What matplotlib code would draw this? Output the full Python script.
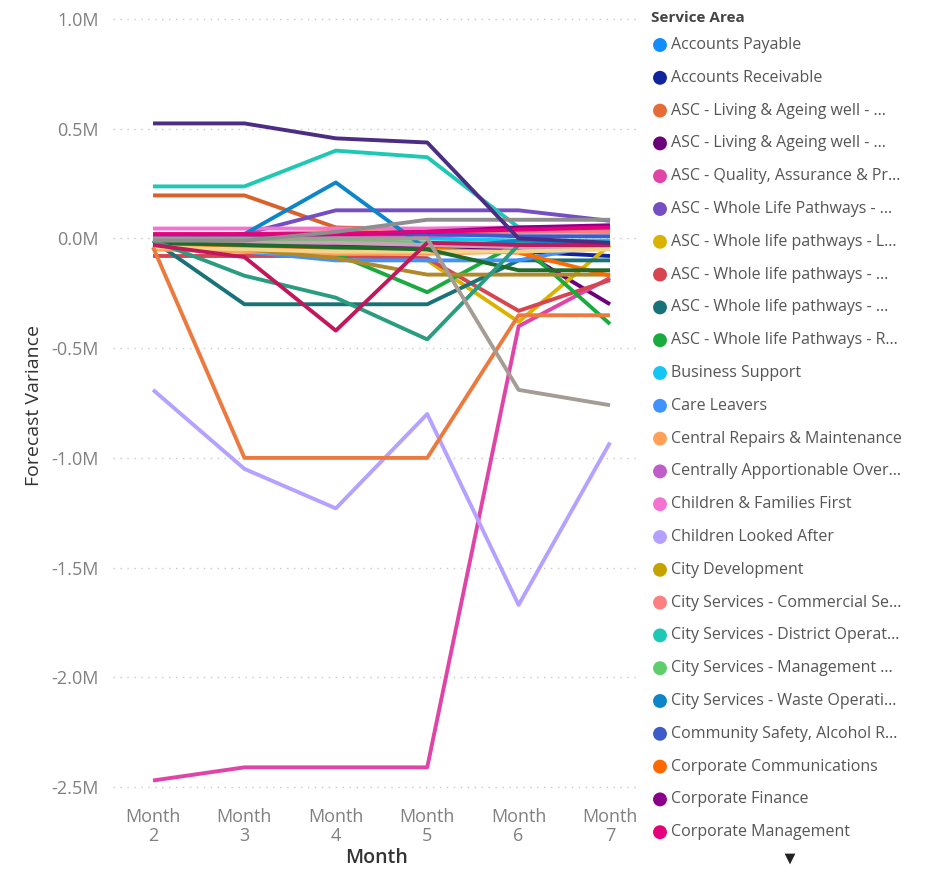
import matplotlib
matplotlib.use("Agg")
from matplotlib import pyplot as plt

plt.rcParams['font.family'] = ['Open Sans', 'DejaVu Sans']

months = [2, 3, 4, 5, 6, 7]
month_labels = [f"Month\n{m}" for m in months]
y_ticks = [1.0, 0.5, 0.0, -0.5, -1.0, -1.5, -2.0, -2.5]
y_tick_labels = ["1.0M", "0.5M", "0.0M", "-0.5M", "-1.0M", "-1.5M", "-2.0M", "-2.5M"]

# values in millions, months 2..7
accounts_payable = [-0.02, -0.02, -0.03, -0.03, -0.02, -0.02]
accounts_receivable = [-0.02, -0.03, -0.03, -0.04, -0.06, -0.08]
asc_living_1 = [0.196, 0.196, 0.05, 0.04, 0.04, 0.03]
asc_living_2 = [-0.02, -0.03, -0.03, -0.03, -0.05, -0.30]
asc_quality = [-2.47, -2.41, -2.41, -2.41, -0.40, -0.18]
asc_wlp_whole = [-0.01, 0.02, 0.128, 0.128, 0.128, 0.08]
asc_wlp_l = [-0.04, -0.06, -0.08, -0.10, -0.38, -0.03]
asc_wlp_red = [-0.08, -0.08, -0.08, -0.09, -0.33, -0.19]
asc_wlp_teal = [-0.01, -0.30, -0.30, -0.30, -0.10, -0.10]
asc_wlp_r = [-0.03, -0.05, -0.07, -0.245, -0.02, -0.39]
business_support = [0.0, 0.0, 0.0, 0.0, -0.01, -0.01]
care_leavers = [-0.03, -0.06, -0.10, -0.10, -0.10, -0.02]
central_repairs = [-0.05, -0.06, -0.07, -0.07, -0.06, -0.02]
centrally_apportionable = [0.0, 0.0, 0.01, 0.01, 0.03, 0.04]
children_families = [0.045, 0.045, 0.045, 0.045, 0.05, 0.05]
children_looked_after = [-0.69, -1.05, -1.23, -0.80, -1.67, -0.93]
city_development = [-0.02, -0.05, -0.09, -0.165, -0.165, -0.165]
city_commercial = [0.01, 0.02, 0.03, 0.03, 0.03, 0.03]
city_district = [0.237, 0.237, 0.40, 0.37, 0.05, 0.05]
city_management = [-0.01, -0.01, -0.01, -0.02, -0.02, -0.02]
city_waste = [-0.02, 0.02, 0.255, -0.05, -0.01, -0.02]
community_safety = [0.0, 0.01, 0.02, 0.02, 0.01, 0.01]
corp_comms = [-0.03, -0.04, -0.05, -0.05, -0.065, -0.17]
corp_finance = [0.0, 0.0, 0.02, 0.03, 0.05, 0.06]
corp_management = [0.02, 0.02, 0.02, 0.03, 0.04, 0.05]

# series further down the (scrolled) legend
extra_indigo = [0.524, 0.524, 0.456, 0.437, 0.0, -0.02]
extra_crimson = [-0.03, -0.085, -0.42, -0.02, -0.03, -0.03]
extra_teal = [-0.01, -0.17, -0.27, -0.46, -0.03, -0.03]
extra_dark_green = [-0.02, -0.03, -0.04, -0.05, -0.145, -0.145]
extra_orange = [-0.04, -1.0, -1.0, -1.0, -0.35, -0.35]
extra_rose = [-0.01, -0.02, -0.02, -0.03, -0.04, -0.04]
extra_sand = [-0.04, -0.05, -0.06, -0.06, -0.06, -0.05]
extra_grey = [-0.01, -0.01, 0.03, 0.085, 0.085, 0.085]
extra_taupe = [0.0, 0.0, 0.0, 0.0, -0.69, -0.76]

legend_names = ["Accounts Payable", "Accounts Receivable", "ASC - Living & Ageing well - ...",
                "ASC - Living & Ageing well - ...", "ASC - Quality, Assurance & Pr...",
                "ASC - Whole Life Pathways - ...", "ASC - Whole life pathways - L...",
                "ASC - Whole life pathways - ...", "ASC - Whole life pathways - ...",
                "ASC - Whole life Pathways - R...", "Business Support", "Care Leavers",
                "Central Repairs & Maintenance", "Centrally Apportionable Over...",
                "Children & Families First", "Children Looked After", "City Development",
                "City Services - Commercial Se...", "City Services - District Operat...",
                "City Services - Management ...", "City Services - Waste Operati...",
                "Community Safety, Alcohol R...", "Corporate Communications",
                "Corporate Finance", "Corporate Management"]
legend_series = [accounts_payable, accounts_receivable, asc_living_1, asc_living_2, asc_quality,
                 asc_wlp_whole, asc_wlp_l, asc_wlp_red, asc_wlp_teal, asc_wlp_r, business_support,
                 care_leavers, central_repairs, centrally_apportionable, children_families,
                 children_looked_after, city_development, city_commercial, city_district,
                 city_management, city_waste, community_safety, corp_comms, corp_finance,
                 corp_management]
legend_colors = ["#118DFF", "#12239E", "#E66C37", "#6B007B", "#E044A7", "#744EC2", "#D9B300",
                 "#D64550", "#197278", "#1AAB40", "#15C6F4", "#4092FF", "#FFA058", "#BE5DC9",
                 "#F472D0", "#B5A1FF", "#C4A200", "#FD8080", "#1FC8B4", "#5ECE6B", "#0C86C8",
                 "#3D5CC9", "#FF6A00", "#8B008B", "#E5007D"]
line_colors = list(legend_colors)
line_colors[2] = "#D9622B"
line_colors[16] = "#B08A2A"

extra_series = [extra_rose, extra_sand, extra_dark_green, extra_teal, extra_crimson,
                extra_orange, extra_taupe, extra_grey, extra_indigo]
extra_colors = ["#C9A3B5", "#F2D48A", "#1E6B2A", "#2A9D80", "#C2185B",
                "#EC7A3F", "#A59C94", "#8E8E8E", "#4B2D83"]

fig = plt.figure(figsize=(9.26, 8.73), dpi=100, facecolor="white")
ax = fig.add_axes([113 / 926, 1 - 795 / 873, 527 / 926, 780 / 873])

for vals, col in zip(legend_series, line_colors):
    ax.plot(months, vals, color=col, linewidth=2.8, solid_capstyle="butt")
for vals, col in zip(extra_series, extra_colors):
    ax.plot(months, vals, color=col, linewidth=2.8, solid_capstyle="butt")

ax.set_xlim(1.562, 7.328)
ax.set_ylim(-2.536, 1.018)
ax.set_yticks(y_ticks)
ax.set_yticklabels(y_tick_labels)
ax.set_xticks(months)
ax.set_xticklabels(month_labels, linespacing=1.1)
ax.tick_params(axis="y", length=0, pad=10, labelsize=13, labelcolor="#808080")
ax.tick_params(axis="x", length=0, pad=9, labelsize=13, labelcolor="#808080")
ax.grid(axis="y", color="#c8c8c8", linestyle=(0, (1, 4)), linewidth=1)
ax.set_axisbelow(True)
for s in ax.spines.values():
    s.set_visible(False)
ax.set_ylabel("Forecast Variance", fontsize=14, color="#333333", labelpad=6)
ax.set_xlabel("Month", fontsize=14, color="#333333", labelpad=2, fontweight="semibold")

# legend panel, in pixel coordinates
lax = fig.add_axes([640 / 926, 0, 286 / 926, 1])
lax.set_xlim(640, 926)
lax.set_ylim(873, 0)
lax.axis("off")
lax.text(651, 18, "Service Area", fontsize=11, fontweight="bold", color="#444444", va="center")
for i, (name, col) in enumerate(zip(legend_names, legend_colors)):
    yy = 45 + i * 32.8
    lax.scatter([660], [yy], s=100, color=col, edgecolors="none")
    lax.text(671, yy, name, fontsize=11.5, color="#555555", va="center")
lax.scatter([790], [859], marker="v", s=60, color="#222222", edgecolors="none")

fig.savefig("out.png", dpi=100)
